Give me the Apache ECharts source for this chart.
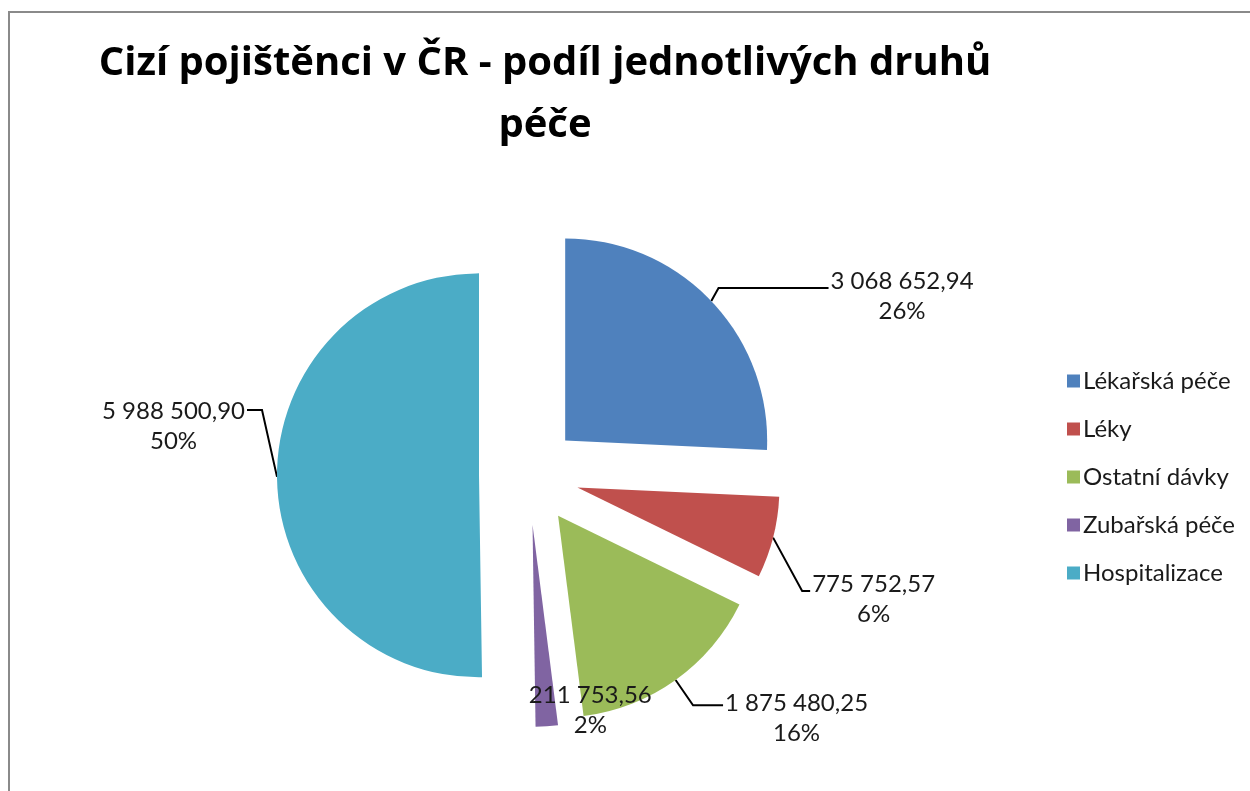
<!DOCTYPE html>
<html>
<head>
<meta charset="utf-8">
<title>Cizí pojištěnci v ČR</title>
<script src="https://cdn.jsdelivr.net/npm/echarts@6/dist/echarts.min.js"></script>
<style>
  html, body { margin: 0; padding: 0; background: #fff; overflow: hidden; }
  #frame { position: absolute; left: 8px; top: 11px; width: 1400px; height: 900px; border: 2px solid #8a8a8a; }
  #chart { position: absolute; left: 0; top: 0; width: 1250px; height: 791px; }
</style>
</head>
<body>
<div id="frame"></div>
<div id="chart"></div>
<script>
  // data
  var categories = ["Lékařská péče", "Léky", "Ostatní dávky", "Zubařská péče", "Hospitalizace"];
  var values = [3068652.94, 775752.57, 1875480.25, 211753.56, 5988500.90];
  var colors = ["#4F81BD", "#C0504D", "#9BBB59", "#8064A2", "#4BACC6"];

  // leader line lengths and label nudges per slice: [length, length2, labelDx, labelDy, lineDy]
  var labelTweak = [
    [10, 110, 0, 2, -6],
    [30, 8, 0, 54, 46],
    [30, 30, 0, 14, 1],
    [0, 0, -20, -16, 0],
    [15, 15, 0, -51, -67]
  ];

  function czNumber(v) {
    var parts = v.toFixed(2).split(".");
    return parts[0].replace(/\B(?=(\d{3})+(?!\d))/g, " ") + "," + parts[1];
  }

  var chart = echarts.init(document.getElementById("chart"), null, { renderer: "canvas" });

  var seriesData = categories.map(function (name, i) {
    var t = labelTweak[i];
    return {
      name: name,
      value: values[i],
      selected: true,
      itemStyle: { color: colors[i] },
      labelLine: { show: i !== 3, length: t[0], length2: t[1] }
    };
  });

  chart.setOption({
    animation: false,
    backgroundColor: "transparent",
    title: {
      text: "Cizí pojištěnci v ČR - podíl jednotlivých druhů\npéče",
      left: 540,
      top: 28,
      textAlign: "center",
      textStyle: { fontFamily: "Open Sans", fontWeight: "bold", fontSize: 40, lineHeight: 62, color: "#000" }
    },
    legend: {
      orient: "vertical",
      left: 1062,
      top: 364,
      itemWidth: 13,
      itemHeight: 13,
      itemGap: 24,
      icon: "rect",
      selectedMode: false,
      textStyle: { fontFamily: "Lato", fontSize: 24, lineHeight: 24, color: "#1a1a1a", padding: [0, 0, 0, -2] },
      data: categories
    },
    series: [{
      type: "pie",
      center: [529, 475],
      radius: 202,
      startAngle: 90,
      clockwise: true,
      selectedMode: "multiple",
      selectedOffset: 50,
      avoidLabelOverlap: false,
      percentPrecision: 0,
      itemStyle: { borderWidth: 0 },
      emphasis: { disabled: true },
      label: {
        show: true,
        position: "outside",
        distanceToLabelLine: 2,
        fontFamily: "Lato",
        fontSize: 24,
        color: "#1a1a1a",
        formatter: function (p) {
          return "{v|" + czNumber(p.value) + "}\n{p|" + p.percent + "%}";
        },
        rich: {
          v: { align: "center", fontFamily: "Lato", fontSize: 24, lineHeight: 30, color: "#1a1a1a" },
          p: { align: "center", fontFamily: "Lato", fontSize: 24, lineHeight: 30, color: "#1a1a1a" }
        }
      },
      labelLine: { lineStyle: { color: "#000", width: 2 }, smooth: false },
      labelLayout: function (params) {
        var t = labelTweak[params.dataIndex];
        var out = { dx: t[2], dy: t[3] };
        if (params.labelLinePoints) {
          out.labelLinePoints = params.labelLinePoints.map(function (pt, k) {
            return k === 0 ? [pt[0], pt[1]] : [pt[0], pt[1] + t[4]];
          });
        }
        return out;
      },
      data: seriesData
    }]
  });
</script>
</body>
</html>
